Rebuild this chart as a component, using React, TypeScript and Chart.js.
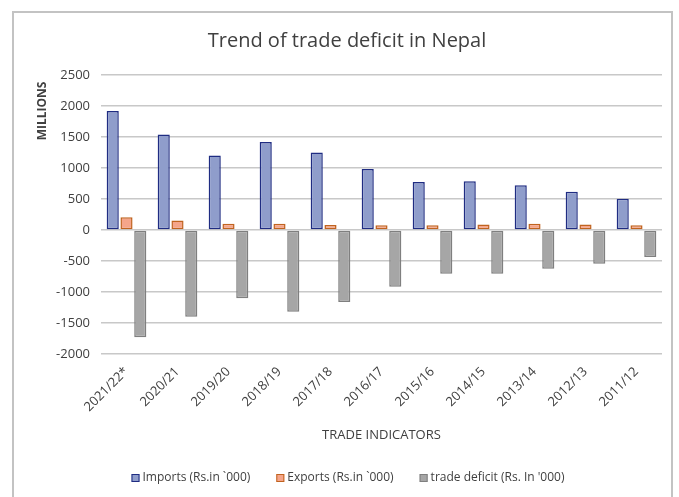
import React, { useEffect, useRef } from 'react';
import { Chart, registerables } from 'chart.js';

Chart.register(...registerables);

const categories = ['2021/22*', '2020/21', '2019/20', '2018/19', '2017/18', '2016/17', '2015/16', '2014/15', '2013/14', '2012/13', '2011/12'];
const importsValues = [1920, 1540, 1200, 1420, 1250, 985, 775, 785, 720, 615, 505];
const exportsValues = [205, 155, 100, 100, 80, 75, 75, 90, 100, 90, 75];
const deficitValues = [-1730, -1400, -1100, -1320, -1160, -915, -705, -705, -625, -545, -435];
const seriesNames = ['Imports (Rs.in `000)', 'Exports (Rs.in `000)', "trade deficit (Rs. In '000)"];
const yMin = -2000;
const yMax = 2500;
const yStep = 500;
const chartTitle = 'Trend of trade deficit in Nepal';
const yAxisTitle = 'MILLIONS';
const xAxisTitle = 'TRADE INDICATORS';

const FONT = '"Open Sans", "Noto Sans", sans-serif';
const fills = ['#8f9dcb', '#f5a58a', '#a6a6a6'];
const borders = ['#1f2c82', '#c0631f', '#7f7f7f'];

const decorPlugin = {
  id: 'decor',
  beforeDraw(chart: any) {
    const ctx = chart.ctx;
    ctx.save();
    ctx.fillStyle = '#ffffff';
    ctx.fillRect(0, 0, chart.width, chart.height);
    ctx.strokeStyle = '#c3c3c3';
    ctx.lineWidth = 2;
    ctx.strokeRect(13, 12, 659, 500);
    ctx.restore();
  },
  afterDraw(chart: any) {
    const ctx = chart.ctx;
    const area = chart.chartArea;
    ctx.save();
    // title
    ctx.fillStyle = '#404040';
    ctx.font = `20px ${FONT}`;
    ctx.textAlign = 'center';
    ctx.textBaseline = 'middle';
    ctx.fillText(chartTitle, 347, 41);
    // y axis title
    ctx.save();
    ctx.translate(43, 111);
    ctx.rotate(-Math.PI / 2);
    ctx.font = `bold 12px ${FONT}`;
    ctx.fillStyle = '#404040';
    ctx.fillText(yAxisTitle, 0, 0);
    ctx.restore();
    // x axis title
    ctx.font = `13px ${FONT}`;
    ctx.fillStyle = '#404040';
    ctx.fillText(xAxisTitle, (area.left + area.right) / 2, 435);
    // legend
    ctx.font = `12px ${FONT}`;
    const box = 8;
    const gapBoxText = 3;
    const gapItems = 26;
    const widths = seriesNames.map((n) => box + gapBoxText + ctx.measureText(n).width);
    const total = widths.reduce((a, b) => a + b, 0) + gapItems * (widths.length - 1);
    let x = 348 - total / 2;
    const y = 478;
    ctx.textAlign = 'left';
    chart.data.datasets.forEach((ds: any, i: number) => {
      ctx.fillStyle = ds.backgroundColor;
      ctx.fillRect(x, y - box / 2, box, box);
      ctx.strokeStyle = ds.borderColor;
      ctx.lineWidth = 1;
      ctx.strokeRect(x + 0.5, y - box / 2 + 0.5, box - 1, box - 1);
      ctx.fillStyle = '#404040';
      ctx.fillText(ds.label, x + box + gapBoxText, y);
      x += widths[i] + gapItems;
    });
    ctx.restore();
  },
};

export default function App() {
  const ref = useRef<HTMLCanvasElement>(null);
  useEffect(() => {
    if (!ref.current) return;
    const mk = (i: number, data: number[]) => ({
      label: seriesNames[i],
      data,
      backgroundColor: fills[i],
      borderColor: borders[i],
      borderWidth: 1.5,
      borderSkipped: false,
      categoryPercentage: 0.81,
      barPercentage: 0.88,
    });
    const chart = new Chart(ref.current, {
      type: 'bar',
      data: {
        labels: categories,
        datasets: [mk(0, importsValues), mk(1, exportsValues), mk(2, deficitValues)],
      },
      plugins: [decorPlugin],
      options: {
        responsive: false,
        animation: false,
        devicePixelRatio: 1,
        layout: { padding: { left: 0, top: 75, right: 17, bottom: 0 } },
        plugins: {
          legend: { display: false },
          title: { display: false },
          tooltip: { enabled: false },
        },
        scales: {
          x: {
            grid: { display: false },
            border: { display: false },
            ticks: {
              color: '#404040',
              font: { size: 13, family: FONT },
              minRotation: 45,
              maxRotation: 45,
              padding: 2,
            },
            afterFit: (s: any) => {
              s.height = 497 - 354;
            },
          },
          y: {
            min: yMin,
            max: yMax,
            border: { display: false },
            grid: { color: '#c8c8c8', lineWidth: 1.5, drawTicks: false },
            ticks: {
              stepSize: yStep,
              color: '#404040',
              font: { size: 13, family: FONT },
              padding: 11,
              callback: (v: any) => String(v),
            },
            afterFit: (s: any) => {
              s.width = 101;
            },
          },
        },
      },
    } as any);
    return () => chart.destroy();
  }, []);
  return (
    <div style={{ position: 'absolute', left: 0, top: 0, width: 679, height: 497 }}>
      <canvas ref={ref} width={679} height={497} style={{ width: 679, height: 497, display: 'block' }} />
    </div>
  );
}
